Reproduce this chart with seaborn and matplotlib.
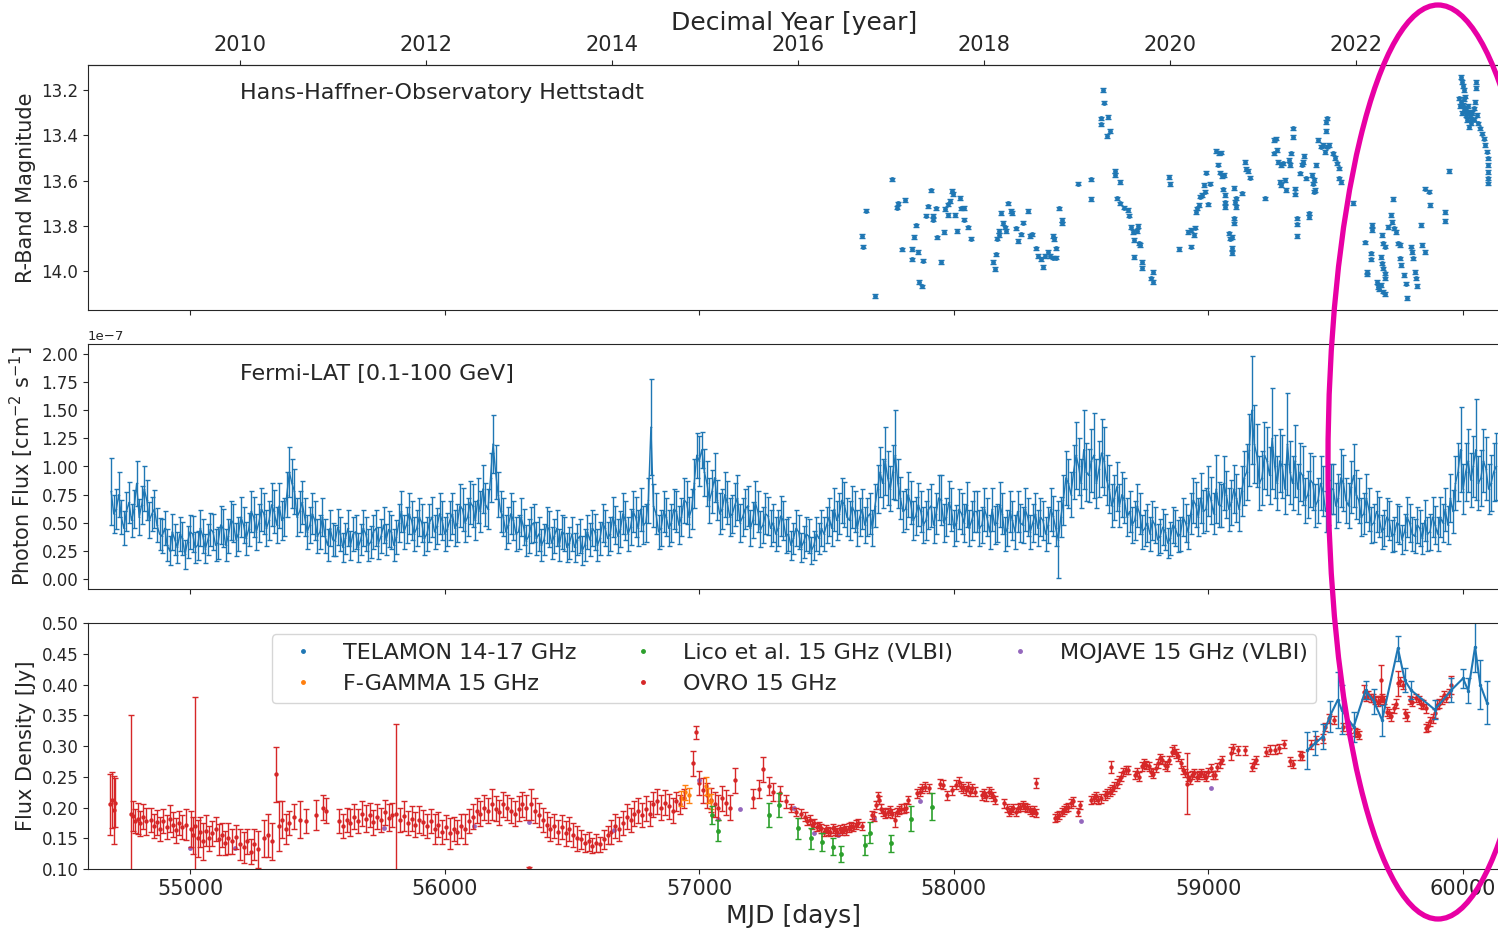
import numpy as np
import matplotlib
matplotlib.use("Agg")
import matplotlib.pyplot as plt
import seaborn as sns
from matplotlib.patches import Ellipse
from matplotlib.lines import Line2D
from matplotlib.ticker import MultipleLocator

sns.set_style("ticks")
plt.rcParams["font.family"] = ["DejaVu Sans"]

# ---------------- Optical (Hans-Haffner-Observatory, R band) ----------------
opt_mjd = [
    57639, 57642, 57655, 57690, 57757, 57775, 57782, 57797, 57808, 57836,
    57836, 57843, 57851, 57860, 57864, 57873, 57879, 57891, 57899, 57909,
    57916, 57919, 57929, 57935, 57949, 57962, 57965, 57975, 57978, 57986,
    57991, 57998, 58005, 58011, 58023, 58029, 58041, 58038, 58056, 58069,
    58155, 58163, 58166, 58171, 58176, 58179, 58187, 58192, 58199, 58204,
    58214, 58225, 58230, 58245, 58250, 58262, 58270, 58291, 58300, 58306,
    58324, 58331, 58341, 58351, 58359, 58369, 58379, 58390, 58402, 58390,
    58394, 58402, 58412, 58425, 58426, 58486, 58537, 58537, 58585, 58590,
    58576, 58578, 58604, 58601, 58613, 58631, 58634, 58651, 58642, 58652,
    58670, 58684, 58687, 58695, 58703, 58723, 58718, 58707, 58728, 58731,
    58708, 58740, 58740, 58776, 58782, 58784, 58845, 58847, 58885, 58921,
    58931, 58932, 58942, 58947, 58951, 58954, 58962, 58967, 58975, 58983,
    58987, 58990, 59000, 59007, 59028, 59040, 59049, 59036, 59044, 59053,
    59059, 59058, 59066, 59066, 59066, 59099, 59132, 59110, 59105, 59109,
    59079, 59086, 59094, 59099, 59102, 59094, 59094, 59143, 59147, 59155,
    59165, 59222, 59259, 59267, 59270, 59259, 59275, 59283, 59292, 59280,
    59283, 59300, 59303, 59330, 59330, 59325, 59316, 59320, 59341, 59341,
    59366, 59372, 59376, 59358, 59382, 59349, 59349, 59349, 59394, 59395,
    59407, 59415, 59412, 59420, 59415, 59424, 59432, 59440, 59448, 59456,
    59465, 59473, 59465, 59461, 59461, 59489, 59497, 59503, 59511, 59514,
    59522, 59567, 59613, 59638, 59638, 59643, 59643, 59621, 59621, 59662,
    59666, 59671, 59679, 59686, 59692, 59679, 59682, 59687, 59692, 59695,
    59682, 59684, 59692, 59704, 59715, 59720, 59728, 59737, 59745, 59753,
    59725, 59753, 59758, 59766, 59775, 59778, 59794, 59798, 59803, 59811,
    59814, 59819, 59836, 59840, 59849, 59852, 59868, 59870, 59928, 59928,
    59943, 59992, 59995, 59999, 60002, 59984, 59992, 60000, 60008, 60005,
    60012, 60017, 60025, 60033, 60022, 60041, 60051, 60051, 60045, 60055,
    60058, 60066, 60075, 60083, 60088, 60094, 60098, 60099, 60099, 60099, 60099,
    59988, 59996, 60003, 60010, 60015, 60020, 60028, 60036, 60030, 60044,
]
opt_mag = [
    13.844, 13.892, 13.733, 14.110, 13.595, 13.719, 13.701, 13.904, 13.685, 13.901,
    13.948, 13.850, 13.798, 13.915, 14.047, 14.068, 13.954, 13.755, 13.714, 13.643,
    13.755, 13.772, 13.723, 13.851, 13.959, 13.826, 13.726, 13.705, 13.752, 13.691,
    13.646, 13.660, 13.752, 13.822, 13.676, 13.723, 13.720, 13.772, 13.807, 13.856,
    13.959, 13.991, 13.926, 13.856, 13.822, 13.841, 13.742, 13.788, 13.807, 13.822,
    13.701, 13.735, 13.742, 13.811, 13.866, 13.838, 13.786, 13.735, 13.845, 13.838,
    13.900, 13.934, 13.947, 13.981, 13.932, 13.915, 13.934, 13.940, 13.940, 13.844,
    13.859, 13.900, 13.723, 13.775, 13.789, 13.613, 13.595, 13.682, 13.200, 13.255,
    13.325, 13.352, 13.318, 13.403, 13.380, 13.558, 13.576, 13.605, 13.679, 13.701,
    13.719, 13.730, 13.755, 13.804, 13.826, 13.801, 13.823, 13.863, 13.878, 13.885,
    13.938, 13.959, 13.985, 14.032, 14.047, 14.003, 13.583, 13.615, 13.901, 13.826,
    13.819, 13.892, 13.841, 13.808, 13.738, 13.723, 13.708, 13.671, 13.664, 13.620,
    13.649, 13.565, 13.705, 13.613, 13.470, 13.480, 13.476, 13.529, 13.565, 13.580,
    13.576, 13.639, 13.664, 13.696, 13.716, 13.632, 13.657, 13.679, 13.694, 13.716,
    13.833, 13.856, 13.848, 13.767, 13.789, 13.897, 13.919, 13.517, 13.549, 13.558,
    13.587, 13.679, 13.421, 13.414, 13.465, 13.480, 13.517, 13.532, 13.524, 13.605,
    13.620, 13.598, 13.642, 13.369, 13.406, 13.480, 13.509, 13.532, 13.635, 13.661,
    13.529, 13.517, 13.490, 13.568, 13.590, 13.767, 13.794, 13.845, 13.745, 13.760,
    13.576, 13.598, 13.613, 13.642, 13.649, 13.532, 13.421, 13.450, 13.443, 13.473,
    13.450, 13.443, 13.325, 13.340, 13.381, 13.480, 13.499, 13.524, 13.546, 13.590,
    13.605, 13.699, 13.873, 13.922, 13.948, 13.797, 13.817, 14.003, 14.015, 14.047,
    14.069, 14.080, 14.062, 14.091, 14.100, 13.937, 13.966, 13.988, 14.010, 14.032,
    13.841, 13.878, 13.892, 13.804, 13.752, 13.782, 13.811, 13.826, 13.878, 13.885,
    13.682, 13.944, 13.973, 14.018, 14.055, 14.118, 13.892, 13.915, 13.944, 14.003,
    14.032, 14.065, 13.797, 13.885, 13.915, 13.635, 13.649, 13.708, 13.738, 13.779,
    13.558, 13.141, 13.163, 13.181, 13.200, 13.237, 13.252, 13.266, 13.229, 13.288,
    13.310, 13.333, 13.296, 13.325, 13.362, 13.281, 13.163, 13.190, 13.252, 13.310,
    13.347, 13.369, 13.392, 13.414, 13.443, 13.472, 13.502, 13.531, 13.561, 13.590, 13.612,
    13.270, 13.300, 13.240, 13.280, 13.300, 13.270, 13.310, 13.300, 13.345, 13.330,
]
opt_err = 0.008

# ---------------- Fermi-LAT, units 1e-7 ----------------
# series A: bins at MJD 54690 + 20 k ; series B: bins at MJD 54700 + 20 k
fermi_start = 54690
fermi_step = 20
fermi_flux_a = [
    0.78, 0.62, 0.55, 0.60, 0.52, 0.85, 0.66, 0.70, 0.58, 0.48,
    0.38, 0.30, 0.42, 0.28, 0.36, 0.33, 0.40, 0.30, 0.38, 0.35,
    0.42, 0.32, 0.45, 0.38, 0.50, 0.40, 0.48, 0.44, 0.55, 0.50,
    0.58, 0.52, 0.60, 0.65, 0.55, 0.95, 0.78, 0.60, 0.55, 0.48,
    0.52, 0.42, 0.38, 0.45, 0.34, 0.40, 0.36, 0.30, 0.42, 0.35,
    0.40, 0.33, 0.45, 0.38, 0.35, 0.42, 0.37, 0.60, 0.48, 0.52,
    0.45, 0.50, 0.40, 0.55, 0.47, 0.52, 0.44, 0.58, 0.50, 0.62,
    0.55, 0.65, 0.70, 0.80, 0.62, 1.20, 0.75, 0.55, 0.48, 0.52,
    0.42, 0.46, 0.38, 0.50, 0.40, 0.35, 0.44, 0.38, 0.30, 0.40,
    0.32, 0.28, 0.38, 0.30, 0.35, 0.42, 0.36, 0.45, 0.40, 0.48,
    0.44, 0.52, 0.46, 0.55, 0.62, 0.50, 1.35, 0.58, 0.45, 0.55,
    0.50, 0.60, 0.55, 0.68, 0.62, 1.10, 1.15, 0.85, 0.78, 0.70,
    0.62, 0.68, 0.58, 0.72, 0.55, 0.65, 0.52, 0.60, 0.48, 0.56,
    0.50, 0.45, 0.52, 0.40, 0.36, 0.42, 0.33, 0.38, 0.30, 0.36,
    0.40, 0.55, 0.62, 0.58, 0.66, 0.52, 0.60, 0.55, 0.48, 0.58,
    0.65, 0.95, 1.05, 0.80, 1.10, 0.72, 0.62, 0.68, 0.56, 0.60,
    0.52, 0.65, 0.58, 0.70, 0.55, 0.62, 0.50, 0.58, 0.66, 0.52,
    0.60, 0.48, 0.55, 0.62, 0.50, 0.58, 0.45, 0.52, 0.60, 0.48,
    0.55, 0.50, 0.45, 0.52, 0.48, 0.56, 0.35, 0.70, 0.85, 0.95,
    1.00, 1.15, 0.92, 1.10, 0.98, 1.05, 0.80, 0.72, 0.65, 0.70,
    0.60, 0.52, 0.58, 0.45, 0.40, 0.48, 0.38, 0.42, 0.36, 0.45,
    0.40, 0.50, 0.58, 0.66, 0.72, 0.62, 0.70, 0.80, 0.65, 0.75,
    0.68, 0.72, 0.78, 0.95, 1.50, 1.10, 0.90, 1.05, 1.25, 0.85,
    1.00, 1.20, 0.85, 0.80, 0.92, 0.75, 0.85, 0.70, 0.78, 0.68,
    0.80, 0.72, 0.85, 0.65, 0.92, 0.70, 0.58, 0.62, 0.50, 0.55,
    0.45, 0.52, 0.40, 0.48, 0.42, 0.50, 0.38, 0.45, 0.52, 0.42,
    0.48, 0.55, 0.62, 0.72, 0.85, 1.15, 0.95, 0.88, 1.15, 0.90,
    0.98, 0.85, 1.00,
]
fermi_err_a = [
    .30, .18, .15, .17, .15, .20, .17, .18, .15, .15,
    .15, .14, .16, .14, .15, .14, .16, .13, .15, .14,
    .16, .14, .17, .15, .17, .15, .16, .15, .18, .17,
    .18, .17, .19, .20, .17, .22, .20, .18, .17, .16,
    .17, .15, .15, .16, .14, .15, .14, .13, .15, .14,
    .15, .14, .16, .15, .14, .15, .15, .18, .16, .17,
    .16, .17, .15, .18, .16, .17, .15, .18, .17, .19,
    .17, .19, .20, .21, .18, .26, .20, .17, .16, .17,
    .15, .16, .15, .17, .15, .14, .16, .15, .14, .15,
    .14, .13, .15, .14, .15, .16, .15, .16, .15, .17,
    .16, .17, .16, .18, .19, .17, .43, .18, .16, .17,
    .17, .18, .17, .19, .18, .20, .16, .20, .19, .18,
    .18, .19, .17, .20, .17, .18, .16, .18, .16, .17,
    .17, .16, .17, .15, .14, .15, .14, .15, .13, .14,
    .15, .17, .19, .18, .20, .17, .18, .17, .16, .18,
    .19, .22, .30, .20, .40, .19, .18, .19, .17, .18,
    .17, .19, .18, .22, .17, .19, .16, .18, .20, .17,
    .18, .16, .17, .19, .17, .18, .16, .17, .18, .16,
    .17, .17, .16, .17, .16, .18, .34, .22, .22, .24,
    .25, .35, .24, .38, .25, .30, .21, .20, .19, .20,
    .18, .17, .18, .16, .15, .16, .15, .16, .15, .16,
    .15, .17, .18, .20, .22, .19, .21, .30, .19, .21,
    .20, .21, .22, .25, .48, .28, .24, .30, .45, .24,
    .28, .45, .24, .22, .26, .21, .24, .20, .22, .20,
    .22, .21, .25, .20, .28, .20, .18, .19, .17, .18,
    .16, .17, .15, .17, .16, .17, .15, .16, .18, .16,
    .17, .18, .19, .21, .24, .38, .26, .24, .45, .25,
    .28, .25, .30,
]
fermi_flux_b = [
    0.58, 0.75, 0.45, 0.68, 0.62, 0.55, 0.80, 0.52, 0.62, 0.40,
    0.45, 0.25, 0.35, 0.40, 0.22, 0.42, 0.28, 0.45, 0.27, 0.44,
    0.30, 0.48, 0.30, 0.52, 0.35, 0.55, 0.36, 0.60, 0.42, 0.62,
    0.45, 0.66, 0.48, 0.52, 0.75, 0.85, 0.55, 0.68, 0.42, 0.58,
    0.38, 0.55, 0.30, 0.35, 0.46, 0.28, 0.45, 0.40, 0.28, 0.45,
    0.30, 0.42, 0.32, 0.48, 0.44, 0.30, 0.50, 0.42, 0.58, 0.40,
    0.55, 0.36, 0.50, 0.42, 0.58, 0.40, 0.52, 0.45, 0.65, 0.50,
    0.68, 0.52, 0.60, 0.66, 0.90, 0.95, 0.60, 0.42, 0.58, 0.40,
    0.55, 0.34, 0.48, 0.36, 0.30, 0.48, 0.32, 0.45, 0.42, 0.28,
    0.40, 0.35, 0.25, 0.42, 0.45, 0.30, 0.50, 0.36, 0.55, 0.38,
    0.58, 0.40, 0.60, 0.45, 0.48, 0.70, 0.65, 0.42, 0.60, 0.45,
    0.62, 0.48, 0.70, 0.55, 0.85, 1.05, 0.95, 0.70, 0.90, 0.58,
    0.75, 0.55, 0.66, 0.50, 0.62, 0.45, 0.68, 0.44, 0.58, 0.45,
    0.40, 0.56, 0.38, 0.30, 0.45, 0.28, 0.40, 0.25, 0.40, 0.45,
    0.48, 0.45, 0.52, 0.70, 0.55, 0.64, 0.45, 0.62, 0.55, 0.45,
    0.80, 0.85, 0.90, 0.95, 0.85, 0.60, 0.75, 0.52, 0.66, 0.48,
    0.62, 0.48, 0.72, 0.50, 0.68, 0.45, 0.62, 0.50, 0.45, 0.60,
    0.45, 0.62, 0.42, 0.48, 0.66, 0.40, 0.60, 0.42, 0.50, 0.62,
    0.42, 0.58, 0.55, 0.40, 0.62, 0.45, 0.55, 0.90, 0.75, 1.10,
    0.85, 0.95, 1.05, 0.85, 1.12, 0.88, 0.65, 0.82, 0.75, 0.55,
    0.48, 0.65, 0.42, 0.50, 0.52, 0.35, 0.46, 0.32, 0.48, 0.38,
    0.55, 0.42, 0.70, 0.55, 0.60, 0.78, 0.58, 0.66, 0.85, 0.62,
    0.80, 0.62, 0.90, 1.15, 1.20, 0.85, 1.10, 0.92, 1.00, 1.05,
    0.80, 0.95, 1.05, 0.95, 0.70, 0.88, 0.65, 0.85, 0.60, 0.80,
    0.65, 0.90, 0.70, 0.82, 0.75, 0.55, 0.72, 0.48, 0.60, 0.42,
    0.55, 0.38, 0.50, 0.35, 0.55, 0.40, 0.48, 0.36, 0.40, 0.55,
    0.40, 0.50, 0.48, 0.60, 0.95, 0.80, 1.05, 1.00, 0.85, 1.05,
    0.80, 0.95,
]
fermi_err_b = [
    .17, .20, .15, .18, .17, .16, .20, .16, .17, .14,
    .15, .13, .14, .15, .13, .15, .14, .16, .13, .15,
    .14, .17, .14, .17, .15, .18, .15, .18, .16, .19,
    .16, .19, .16, .17, .20, .22, .17, .19, .15, .18,
    .15, .17, .14, .15, .16, .13, .16, .15, .13, .16,
    .14, .15, .14, .16, .16, .14, .17, .15, .18, .15,
    .17, .15, .17, .15, .18, .15, .17, .16, .19, .17,
    .19, .17, .18, .19, .22, .24, .18, .15, .18, .15,
    .17, .14, .16, .15, .14, .16, .14, .16, .15, .13,
    .15, .14, .13, .15, .16, .14, .17, .15, .18, .15,
    .18, .15, .18, .16, .17, .20, .19, .15, .18, .16,
    .18, .17, .20, .18, .22, .22, .21, .20, .22, .18,
    .20, .17, .19, .17, .18, .16, .19, .16, .18, .16,
    .15, .18, .15, .13, .16, .13, .15, .12, .15, .16,
    .16, .16, .17, .20, .17, .19, .16, .18, .17, .16,
    .21, .22, .24, .24, .22, .18, .20, .17, .19, .16,
    .18, .16, .20, .17, .19, .16, .18, .17, .16, .18,
    .16, .19, .15, .17, .20, .15, .18, .15, .17, .19,
    .15, .18, .17, .15, .19, .16, .18, .24, .20, .30,
    .22, .26, .28, .22, .30, .22, .19, .22, .20, .17,
    .16, .19, .15, .17, .17, .14, .16, .13, .16, .14,
    .17, .15, .20, .17, .19, .22, .18, .20, .24, .19,
    .21, .19, .24, .32, .35, .24, .30, .25, .28, .28,
    .22, .28, .32, .26, .20, .24, .19, .24, .18, .22,
    .20, .26, .20, .23, .22, .17, .21, .16, .18, .15,
    .17, .14, .17, .13, .18, .15, .16, .14, .15, .18,
    .15, .17, .17, .19, .26, .22, .28, .27, .24, .28,
    .22, .26,
]

# ---------------- Radio ----------------
ovro_mjd = [
    54686, 54693, 54700, 54706, 54766, 54775, 54785, 54795, 54805, 54815,
    54827, 54845, 54858, 54870, 54882, 54895, 54908, 54920, 54932, 54945,
    54958, 54970, 54985, 55003, 55012, 55020, 55030, 55040, 55050, 55062,
    55075, 55088, 55100, 55112, 55125, 55138, 55150, 55165, 55180, 55196,
    55213, 55225, 55238, 55250, 55266, 55290, 55305, 55320, 55339, 55350,
    55362, 55375, 55388, 55410, 55430, 55455, 55494, 55522, 55535, 55585,
    55600, 55615, 55630, 55645, 55660, 55675, 55690, 55705, 55720, 55735,
    55750, 55765, 55780, 55795, 55809, 55825, 55840, 55855, 55870, 55885,
    55900, 55915, 55930, 55945, 55960, 55975, 55990, 56005, 56020, 56035,
    56050, 56065, 56080, 56095, 56110, 56125, 56140, 56155, 56170, 56185,
    56200, 56215, 56230, 56245, 56260, 56275, 56290, 56305, 56320, 56330,
    56340, 56355, 56370, 56385, 56400, 56415, 56430, 56445, 56460, 56475,
    56490, 56505, 56520, 56535, 56550, 56565, 56580, 56595, 56610, 56625,
    56640, 56655, 56670, 56685, 56700, 56715, 56730, 56745, 56760, 56775,
    56790, 56805, 56820, 56835, 56850, 56865, 56880, 56895, 56910, 56925,
    56940, 56975, 56988, 57000, 57015, 57030, 57045, 57060, 57075, 57090,
    57105, 57120, 57142, 57212, 57235, 57250, 57273, 57290, 57317, 57340,
    57362, 57380, 57398, 57416, 57425, 57434, 57443, 57452, 57461, 57470,
    57479, 57488, 57497, 57506, 57515, 57524, 57533, 57542, 57551, 57560,
    57569, 57578, 57587, 57596, 57605, 57614, 57623, 57641, 57677, 57686,
    57695, 57700, 57705, 57713, 57722, 57731, 57740, 57749, 57758, 57767,
    57776, 57785, 57794, 57803, 57812, 57821, 57857, 57866, 57875, 57888,
    57902, 57947, 57956, 57974, 57992, 58010, 58019, 58028, 58037, 58046,
    58055, 58064, 58073, 58082, 58109, 58118, 58127, 58136, 58145, 58154,
    58163, 58198, 58207, 58216, 58225, 58234, 58243, 58252, 58261, 58270,
    58279, 58288, 58297, 58306, 58315, 58321, 58324, 58396, 58405, 58414,
    58423, 58432, 58441, 58450, 58459, 58468, 58486, 58495, 58540, 58549,
    58558, 58567, 58576, 58594, 58603, 58612, 58616, 58621, 58630, 58639,
    58648, 58657, 58666, 58675, 58684, 58711, 58720, 58729, 58738, 58747,
    58756, 58765, 58774, 58783, 58792, 58801, 58810, 58819, 58828, 58837,
    58846, 58855, 58864, 58873, 58882, 58891, 58900, 58909, 58914, 58918,
    58927, 58936, 58945, 58954, 58963, 58972, 58981, 58990, 58999, 59008,
    59017, 59026, 59035, 59044, 59053, 59089, 59098, 59116, 59143, 59170,
    59179, 59188, 59224, 59242, 59260, 59278, 59296, 59322, 59331, 59358,
    59367, 59403, 59421, 59448, 59457, 59475, 59493, 59529, 59547, 59556,
    59574, 59583, 59592, 59610, 59619, 59628, 59637, 59646, 59655, 59664,
    59673, 59677, 59682, 59691, 59700, 59709, 59718, 59727, 59736, 59745,
    59754, 59763, 59772, 59781, 59790, 59799, 59817, 59826, 59835, 59844,
    59853, 59853, 59862, 59871, 59880, 59889, 59898, 59907, 59916, 59925,
    59934, 59943, 59952,
]
ovro_flux = [
    .205, .212, .196, .208, .190, .186, .178, .182, .174, .185,
    .178, .180, .170, .176, .165, .178, .168, .182, .172, .163,
    .175, .168, .172, .165, .155, .170, .150, .160, .145, .162,
    .150, .158, .165, .148, .155, .142, .150, .145, .152, .140,
    .135, .145, .128, .140, .132, .150, .155, .145, .254, .170,
    .180, .165, .175, .185, .180, .178, .188, .200, .195, .178,
    .170, .180, .175, .185, .178, .190, .182, .188, .176, .185,
    .180, .192, .183, .188, .190, .180, .186, .175, .182, .172,
    .180, .176, .170, .178, .165, .172, .160, .168, .158, .165,
    .160, .170, .165, .178, .185, .195, .190, .200, .195, .205,
    .198, .192, .205, .200, .195, .190, .198, .205, .200, .101,
    .205, .195, .188, .180, .172, .165, .170, .160, .168, .158,
    .165, .155, .150, .148, .142, .145, .138, .142, .140, .148,
    .155, .160, .170, .165, .175, .185, .180, .190, .195, .188,
    .198, .190, .205, .210, .200, .208, .202, .195, .210, .205,
    .215, .272, .322, .240, .228, .220, .212, .205, .200, .215,
    .208, .200, .244, .215, .230, .262, .235, .225, .223, .210,
    .199, .193, .190, .185, .178, .180, .172, .175, .168, .170,
    .166, .160, .165, .162, .160, .166, .163, .160, .165, .162,
    .166, .163, .167, .170, .168, .172, .175, .170, .188, .185,
    .204, .218, .212, .198, .193, .190, .192, .195, .190, .180,
    .193, .196, .198, .198, .200, .212, .223, .226, .231, .234,
    .231, .239, .237, .220, .228, .237, .242, .234, .231, .228,
    .234, .226, .231, .226, .220, .223, .218, .226, .223, .218,
    .212, .207, .199, .193, .196, .199, .193, .199, .201, .204,
    .201, .199, .196, .193, .196, .240, .191, .183, .185, .188,
    .193, .196, .199, .201, .207, .210, .193, .204, .212, .215,
    .218, .212, .215, .220, .223, .226, .266, .229, .234, .239,
    .245, .250, .258, .261, .261, .253, .258, .250, .267, .272,
    .269, .267, .258, .255, .264, .272, .280, .277, .269, .267,
    .277, .291, .294, .288, .283, .272, .261, .256, .239, .250,
    .245, .253, .256, .250, .253, .256, .253, .250, .258, .264,
    .253, .253, .266, .272, .277, .288, .296, .293, .293, .266,
    .272, .277, .291, .294, .294, .296, .303, .275, .271, .285,
    .284, .302, .310, .312, .331, .345, .342, .331, .326, .328,
    .323, .321, .318, .388, .380, .383, .378, .378, .375, .372,
    .375, .407, .378, .375, .356, .353, .348, .361, .369, .402,
    .405, .399, .353, .348, .375, .372, .378, .375, .369, .367,
    .361, .329, .332, .340, .345, .353, .367, .369, .375, .383,
    .378, .386, .399,
]
ovro_err = [
    .05, .045, .055, .04, .16, .025, .02, .025, .02, .02,
    .022, .02, .02, .02, .02, .02, .02, .022, .02, .02,
    .02, .02, .025, .03, .03, .21, .03, .025, .03, .025,
    .02, .02, .02, .025, .02, .02, .025, .02, .02, .025,
    .025, .02, .02, .025, .03, .03, .035, .03, .045, .04,
    .03, .025, .02, .02, .03, .02, .025, .02, .02, .02,
    .02, .02, .022, .02, .02, .02, .022, .02, .02, .02,
    .02, .02, .022, .02, .145, .02, .025, .02, .02, .02,
    .022, .02, .02, .02, .025, .02, .02, .02, .025, .02,
    .02, .02, .025, .02, .02, .02, .02, .02, .02, .025,
    .02, .02, .02, .02, .02, .02, .02, .02, .02, .002,
    .025, .02, .02, .02, .02, .02, .02, .02, .02, .02,
    .02, .02, .02, .015, .015, .015, .012, .015, .012, .015,
    .015, .02, .02, .02, .02, .02, .02, .02, .02, .02,
    .02, .02, .02, .02, .02, .02, .02, .02, .015, .015,
    .015, .02, .01, .02, .02, .02, .02, .02, .02, .02,
    .02, .02, .02, .015, .015, .02, .015, .015, .012, .01,
    .007, .007, .007, .007, .007, .007, .007, .007, .007, .007,
    .007, .007, .007, .007, .007, .007, .007, .007, .007, .007,
    .007, .007, .007, .007, .007, .007, .007, .007, .007, .007,
    .007, .007, .007, .007, .007, .007, .007, .007, .007, .012,
    .007, .007, .007, .007, .007, .007, .007, .007, .007, .007,
    .007, .007, .007, .007, .007, .007, .007, .007, .007, .007,
    .007, .007, .007, .007, .007, .007, .007, .007, .007, .007,
    .007, .007, .007, .007, .007, .007, .007, .007, .007, .007,
    .007, .007, .007, .007, .007, .008, .007, .007, .007, .007,
    .007, .007, .007, .007, .007, .007, .007, .007, .007, .007,
    .007, .007, .007, .007, .007, .007, .010, .007, .007, .007,
    .007, .007, .007, .007, .007, .007, .007, .007, .007, .007,
    .007, .007, .007, .007, .007, .007, .007, .007, .007, .007,
    .007, .007, .007, .007, .007, .007, .007, .007, .050, .007,
    .007, .007, .007, .007, .007, .007, .007, .007, .007, .007,
    .007, .007, .007, .007, .007, .010, .007, .007, .007, .007,
    .007, .007, .007, .007, .007, .007, .007, .007, .007, .007,
    .007, .007, .007, .007, .007, .007, .007, .007, .007, .007,
    .007, .007, .007, .012, .007, .007, .007, .007, .007, .007,
    .007, .025, .007, .007, .007, .007, .007, .007, .007, .020,
    .007, .007, .007, .007, .007, .007, .007, .007, .007, .007,
    .007, .007, .007, .007, .007, .007, .007, .007, .007, .007,
    .007, .007, .015,
]

telamon_mjd = [59387, 59420, 59448, 59476, 59508, 59523, 59570, 59617, 59650, 59682,
               59744, 59771, 59795, 59889, 59954, 60000, 60020, 60047, 60067, 60094]
telamon_flux = [0.293, 0.305, 0.315, 0.348, 0.375, 0.359, 0.331, 0.391, 0.372, 0.342,
                0.459, 0.407, 0.391, 0.359, 0.391, 0.410, 0.390, 0.461, 0.400, 0.370]
telamon_err = [0.030, 0.020, 0.020, 0.025, 0.045, 0.040, 0.025, 0.015, 0.020, 0.025,
               0.020, 0.020, 0.015, 0.015, 0.020, 0.015, 0.020, 0.040, 0.040, 0.035]

fgamma_mjd = [56930, 56945, 56960, 57025, 57035, 57045]
fgamma_flux = [0.215, 0.225, 0.220, 0.235, 0.220, 0.210]
fgamma_err = [0.012, 0.012, 0.012, 0.015, 0.012, 0.012]

lico_mjd = [57050, 57074, 57274, 57312, 57387, 57437, 57481, 57524, 57556, 57649,
            57672, 57752, 57833, 57915]
lico_flux = [0.188, 0.162, 0.188, 0.204, 0.166, 0.150, 0.144, 0.136, 0.125, 0.139,
             0.159, 0.142, 0.182, 0.201]
lico_err = [0.015, 0.017, 0.019, 0.020, 0.017, 0.017, 0.015, 0.014, 0.013, 0.016,
            0.017, 0.014, 0.020, 0.022]

mojave_mjd = [55000, 55175, 55762, 56116, 56332, 56665, 56998, 57075, 57160, 57372,
              57449, 57546, 57687, 57867, 58500, 59010]
mojave_flux = [0.134, 0.134, 0.166, 0.170, 0.176, 0.163, 0.245, 0.182, 0.197, 0.200,
               0.158, 0.155, 0.181, 0.211, 0.178, 0.232]

legend_labels = ["TELAMON 14-17 GHz", "F-GAMMA 15 GHz", "Lico et al. 15 GHz (VLBI)",
                 "OVRO 15 GHz", "MOJAVE 15 GHz (VLBI)"]
legend_colors = ["C0", "C1", "C2", "C3", "C4"]
year_ticks = [2010, 2012, 2014, 2016, 2018, 2020, 2022]
mjd_ticks = [55000, 56000, 57000, 58000, 59000, 60000]

# ---------------- Figure ----------------
W, H = 1498, 930
fig = plt.figure(figsize=(W / 100, H / 100), dpi=100)


def rect(x0, y0, x1, y1):
    return [x0 / W, 1 - y1 / H, (x1 - x0) / W, (y1 - y0) / H]


ax1 = fig.add_axes(rect(88, 65, 1500, 310))
ax2 = fig.add_axes(rect(88, 344, 1500, 589), sharex=ax1)
ax3 = fig.add_axes(rect(88, 623, 1500, 869), sharex=ax1)

# --- optical
ax1.errorbar(opt_mjd, opt_mag, yerr=opt_err, fmt="none", ecolor="C0",
             elinewidth=1.0, capsize=2, capthick=1.0)
sns.scatterplot(x=opt_mjd, y=opt_mag, ax=ax1, s=12, color="C0", linewidth=0)
ax1.set_ylim(14.172, 13.089)
ax1.yaxis.set_major_locator(MultipleLocator(0.2))
ax1.set_ylabel("R-Band Magnitude", fontsize=15)
ax1.text(0.108, 0.886, "Hans-Haffner-Observatory Hettstadt", transform=ax1.transAxes,
         fontsize=16, va="center", ha="left")


def mjd2yr(m):
    return 2000.0 + (np.asarray(m) - 51544.5) / 365.25


def yr2mjd(y):
    return (np.asarray(y) - 2000.0) * 365.25 + 51544.5


sec = ax1.secondary_xaxis("top", functions=(mjd2yr, yr2mjd))
sec.set_xticks(year_ticks)
sec.tick_params(labelsize=15)
sec.set_xlabel("Decimal Year [year]", fontsize=18)

# --- Fermi: merge the two interleaved series in time order
mjd_a = fermi_start + fermi_step * np.arange(len(fermi_flux_a))
mjd_b = fermi_start + fermi_step // 2 + fermi_step * np.arange(len(fermi_flux_b))
fermi_mjd = np.concatenate([mjd_a, mjd_b])
order = np.argsort(fermi_mjd, kind="stable")
fermi_mjd = fermi_mjd[order]
fflux = np.concatenate([fermi_flux_a, fermi_flux_b])[order] * 1e-7
ferr = np.concatenate([fermi_err_a, fermi_err_b])[order] * 1e-7
ax2.errorbar(fermi_mjd, fflux, yerr=ferr, fmt="none", ecolor="C0",
             elinewidth=1.0, capsize=1.8, capthick=1.0)
sns.lineplot(x=fermi_mjd, y=fflux, ax=ax2, color="C0", linewidth=1.0,
             marker=".", markersize=2.5, markeredgewidth=0, sort=False, estimator=None)
ax2.set_ylim(-0.089e-7, 2.089e-7)
ax2.yaxis.set_major_locator(MultipleLocator(0.25e-7))
ax2.set_ylabel("Photon Flux [cm$^{-2}$ s$^{-1}$]", fontsize=15)
ax2.yaxis.get_offset_text().set_fontsize(9.5)
ax2.text(0.108, 0.878, "Fermi-LAT [0.1-100 GeV]", transform=ax2.transAxes,
         fontsize=16, va="center", ha="left")

# --- Radio
ax3.errorbar(ovro_mjd, ovro_flux, yerr=ovro_err, fmt="none", ecolor="C3",
             elinewidth=1.0, capsize=2, capthick=1.0)
sns.scatterplot(x=ovro_mjd, y=ovro_flux, ax=ax3, s=10, color="C3", linewidth=0)
ax3.errorbar(fgamma_mjd, fgamma_flux, yerr=fgamma_err, fmt="none", ecolor="C1",
             elinewidth=1.0, capsize=2)
sns.scatterplot(x=fgamma_mjd, y=fgamma_flux, ax=ax3, s=10, color="C1", linewidth=0)
ax3.errorbar(lico_mjd, lico_flux, yerr=lico_err, fmt="none", ecolor="C2",
             elinewidth=1.2, capsize=2)
sns.scatterplot(x=lico_mjd, y=lico_flux, ax=ax3, s=12, color="C2", linewidth=0)
sns.scatterplot(x=mojave_mjd, y=mojave_flux, ax=ax3, s=12, color="C4", linewidth=0)
ax3.errorbar(telamon_mjd, telamon_flux, yerr=telamon_err, fmt="none", ecolor="C0",
             elinewidth=1.0, capsize=2)
sns.lineplot(x=telamon_mjd, y=telamon_flux, ax=ax3, color="C0", linewidth=1.5,
             marker=".", markersize=5, markeredgewidth=0, sort=False, estimator=None)
ax3.set_ylim(0.10, 0.50)
ax3.yaxis.set_major_locator(MultipleLocator(0.05))
ax3.set_ylabel("Flux Density [Jy]", fontsize=15)
ax3.set_xlabel("MJD [days]", fontsize=18)

handles = [Line2D([], [], marker=".", linestyle="none", color=c, markersize=5)
           for c in legend_colors]
ax3.legend(handles, legend_labels, loc="upper center", ncol=3, fontsize=16)

# common x
ax1.set_xlim(54599, 60145)
ax3.set_xticks(mjd_ticks)
for ax in (ax1, ax2, ax3):
    ax.tick_params(axis="y", labelsize=12)
    ax.tick_params(axis="x", labelsize=15)
ax1.tick_params(axis="x", labelbottom=False)
ax2.tick_params(axis="x", labelbottom=False)

# highlight ellipse (figure coordinates)
ell = Ellipse((1438 / W, 1 - 462 / H), width=220 / W, height=914 / H,
              transform=fig.transFigure, fill=False, edgecolor="#e800a4",
              linewidth=3.8, zorder=10)
fig.add_artist(ell)

fig.savefig("out.png", dpi=100)
